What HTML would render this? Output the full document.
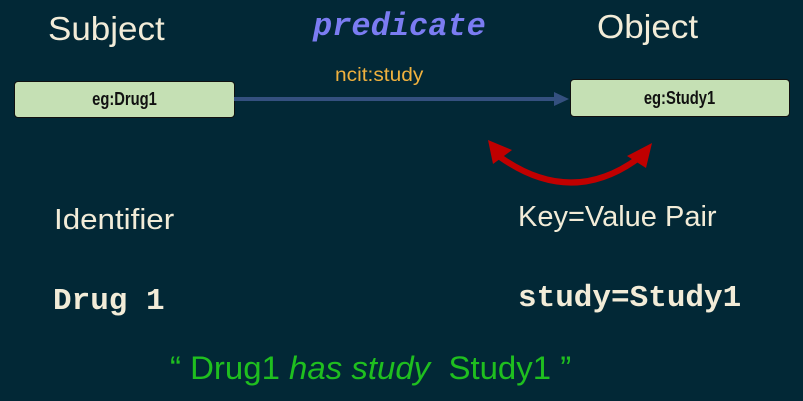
<!DOCTYPE html>
<html><head><meta charset="utf-8"><style>
body{margin:0;width:803px;height:401px;background:#022836;overflow:hidden;position:relative;font-family:"Liberation Sans",sans-serif}
.t{position:absolute;white-space:nowrap;line-height:1;transform-origin:0 0}
.c{color:#f2ecd8}
.box{position:absolute;background:#c5e0b4;border:1px solid #111;border-radius:4px;font-weight:bold;font-size:18px;color:#111;display:flex;align-items:center;justify-content:center}
.box span{display:inline-block;transform:scaleX(0.82)}
.m{font-family:"Liberation Mono",monospace;font-weight:bold;color:#f2ecd8}
</style></head><body>
<div class="t c" style="left:48px;top:12px;font-size:33px;transform:scaleX(1.06)">Subject</div>
<div class="t m" style="left:313px;top:11px;font-size:32px;color:#7b7cf2;font-style:italic">predicate</div>
<div class="t c" style="left:597px;top:10px;font-size:33px;transform:scaleX(1.06)">Object</div>
<div class="t" style="left:335px;top:66px;font-size:19px;color:#f0b13e;transform:scaleX(1.1)">ncit:study</div>
<div class="box" style="left:14px;top:81px;width:219px;height:35px"><span>eg:Drug1</span></div>
<div class="box" style="left:570px;top:79px;width:218px;height:36px"><span>eg:Study1</span></div>
<svg style="position:absolute;left:0;top:0" width="803" height="401">
<line x1="234" y1="99" x2="556" y2="99" stroke="#34507f" stroke-width="4"/>
<polygon points="554,92 569,99 554,106" fill="#34507f"/>
<path d="M500,157 Q572,208 640,157" fill="none" stroke="#c00000" stroke-width="6"/>
<polygon points="488,140 512,150 493,164" fill="#c00000"/>
<polygon points="652,143 646,168 627,156" fill="#c00000"/>
</svg>
<div class="t c" style="left:54px;top:206px;font-size:29px;transform:scaleX(1.08)">Identifier</div>
<div class="t c" style="left:518px;top:203px;font-size:29px;transform:scaleX(1.0)">Key=Value Pair</div>
<div class="t m" style="left:53px;top:286px;font-size:31px">Drug 1</div>
<div class="t m" style="left:518px;top:283px;font-size:31px">study=Study1</div>
<div class="t" style="left:170px;top:352px;font-size:32px;color:#1fbf1f;transform:scaleX(1.03)">“ Drug1 <i>has study</i>&nbsp; Study1 ”</div>
</body></html>
